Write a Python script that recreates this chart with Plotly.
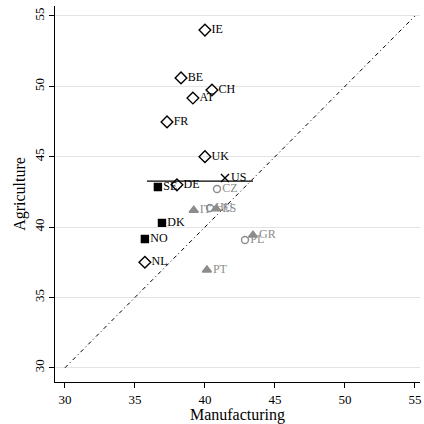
import plotly.graph_objects as go

# Data
diamond_labels = ["IE", "BE", "CH", "AT", "FR", "UK", "DE", "NL"]
diamond_x = [40.0, 38.29, 40.5, 39.14, 37.29, 40.0, 38.0, 35.71]
diamond_y = [54.0, 50.6, 49.74, 49.17, 47.47, 45.0, 43.0, 37.5]

square_labels = ["SE", "DK", "NO"]
square_x = [36.64, 36.93, 35.71]
square_y = [42.85, 40.3, 39.15]

cross_labels = ["US"]
cross_x = [41.43]
cross_y = [43.49]

circle_labels = ["CZ", "HU", "PL"]
circle_x = [40.86, 40.36, 42.86]
circle_y = [42.7, 41.35, 39.08]

triangle_labels = ["IT", "ES", "GR", "PT"]
triangle_x = [39.2, 40.8, 43.43, 40.14]
triangle_y = [41.2, 41.3, 39.43, 36.95]

mean_line_x = [35.86, 43.43]
mean_line_y = [43.27, 43.27]

diag = [30, 55]
ticks = [30, 35, 40, 45, 50, 55]

FONT = "Liberation Serif"
GRAY = "#8c8c8c"

fig = go.Figure()

fig.add_trace(go.Scatter(x=diag, y=diag, mode="lines",
                         line=dict(color="black", width=1, dash="4px,3px,1px,3px"),
                         hoverinfo="skip"))
fig.add_trace(go.Scatter(x=mean_line_x, y=mean_line_y, mode="lines",
                         line=dict(color="black", width=1.3), hoverinfo="skip"))

def add(xs, ys, labels, symbol, color, size):
    fig.add_trace(go.Scatter(
        x=xs, y=ys, mode="markers+text", text=labels,
        textposition="middle right",
        textfont=dict(family=FONT, size=12, color=color),
        marker=dict(symbol=symbol, size=size, color=color,
                    line=dict(color=color, width=1.4))))

add(diamond_x, diamond_y, diamond_labels, "diamond-open", "black", 9)
add(square_x, square_y, square_labels, "square", "black", 7)
add(cross_x, cross_y, cross_labels, "x-thin-open", "black", 8)
add(circle_x, circle_y, circle_labels, "circle-open", GRAY, 7)
add(triangle_x, triangle_y, triangle_labels, "triangle-up", GRAY, 8)

fig.update_layout(
    width=424, height=424,
    margin=dict(l=55, r=4, t=6, b=42),
    paper_bgcolor="white", plot_bgcolor="white",
    showlegend=False,
    font=dict(family=FONT, color="black"),
    xaxis=dict(range=[29.29, 55.36], tickvals=ticks, ticks="outside", ticklen=5,
               tickcolor="black", showline=True, linecolor="black", linewidth=1,
               showgrid=False, zeroline=False,
               tickfont=dict(size=13, family=FONT, color="black"),
               title=dict(text="Manufacturing", font=dict(size=16, family=FONT, color="black"), standoff=0)),
    yaxis=dict(range=[28.99, 55.71], tickvals=ticks, ticks="outside", ticklen=5,
               tickcolor="black", showline=True, linecolor="black", linewidth=1,
               showgrid=True, gridcolor="#e3e3e3", gridwidth=1, zeroline=False,
               tickangle=-90, tickfont=dict(size=13, family=FONT, color="black"),
               title=dict(text="Agriculture", font=dict(size=16, family=FONT, color="black"), standoff=2)),
)

fig.write_html("out.html", config={"displayModeBar": False},
               post_script="document.body.style.margin='0';document.body.style.overflow='hidden';")
